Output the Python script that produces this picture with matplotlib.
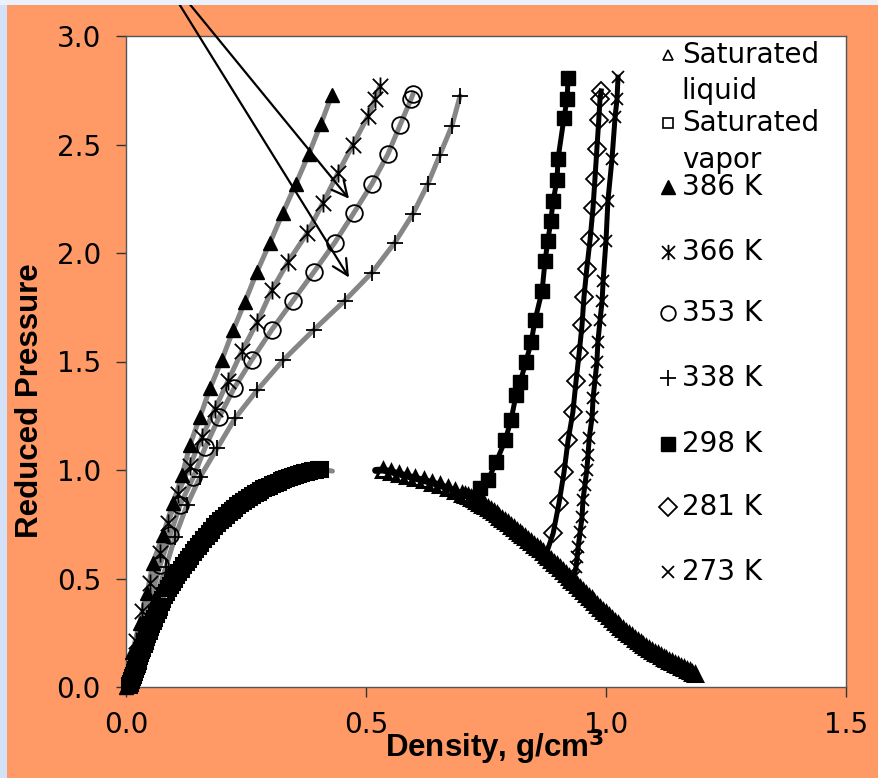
import matplotlib
matplotlib.use("Agg")
import matplotlib.pyplot as plt
from matplotlib.path import Path
from matplotlib.lines import Line2D
from matplotlib.patches import Rectangle

plt.rcParams['font.family'] = ['DejaVu Sans']

# ---------------- data ----------------
# Saturated vapor (open squares)
rho_vap = [0.006, 0.008, 0.010, 0.012, 0.014, 0.016, 0.018, 0.020, 0.022, 0.024,
           0.026, 0.028, 0.030, 0.032, 0.034, 0.037, 0.039, 0.042, 0.044, 0.047,
           0.050, 0.053, 0.056, 0.059, 0.062, 0.066, 0.069, 0.073, 0.076, 0.080,
           0.084, 0.088, 0.092, 0.096, 0.100, 0.105, 0.109, 0.114, 0.119, 0.124,
           0.129, 0.134, 0.139, 0.144, 0.150, 0.155, 0.161, 0.166, 0.172, 0.178,
           0.184, 0.190, 0.196, 0.202, 0.208, 0.214, 0.220, 0.226, 0.232, 0.238,
           0.244, 0.250, 0.256, 0.262, 0.268, 0.274, 0.280, 0.286, 0.292, 0.298,
           0.304, 0.310, 0.316, 0.322, 0.328, 0.334, 0.340, 0.346, 0.352, 0.358,
           0.364, 0.370, 0.376, 0.382, 0.388, 0.394, 0.399, 0.404]
p_vap = [0.010, 0.020, 0.032, 0.045, 0.057, 0.070, 0.082, 0.095, 0.107, 0.120,
         0.132, 0.145, 0.157, 0.170, 0.182, 0.200, 0.212, 0.230, 0.242, 0.260,
         0.275, 0.290, 0.305, 0.320, 0.335, 0.355, 0.370, 0.390, 0.405, 0.425,
         0.440, 0.455, 0.470, 0.485, 0.498, 0.515, 0.528, 0.545, 0.560, 0.575,
         0.590, 0.605, 0.620, 0.635, 0.650, 0.665, 0.680, 0.695, 0.710, 0.725,
         0.740, 0.755, 0.768, 0.780, 0.793, 0.805, 0.816, 0.827, 0.838, 0.848,
         0.858, 0.868, 0.877, 0.885, 0.893, 0.900, 0.908, 0.915, 0.922, 0.928,
         0.934, 0.940, 0.946, 0.952, 0.958, 0.963, 0.968, 0.973, 0.978, 0.982,
         0.986, 0.990, 0.993, 0.996, 0.999, 1.001, 1.003, 1.004]
rho_vap_end = [0.430]
p_vap_end = [0.995]

# Saturated liquid (open triangles)
rho_liq = [0.535, 0.552, 0.569, 0.586, 0.603, 0.620, 0.637, 0.654, 0.671, 0.686,
           0.700, 0.706, 0.712, 0.718, 0.724, 0.730, 0.736, 0.742, 0.748, 0.754,
           0.760, 0.766, 0.772, 0.778, 0.784, 0.790, 0.796, 0.802, 0.808, 0.814,
           0.820, 0.826, 0.832, 0.838, 0.844, 0.850, 0.856, 0.862, 0.868, 0.874,
           0.880, 0.886, 0.892, 0.898, 0.904, 0.910, 0.916, 0.922, 0.928, 0.934,
           0.940, 0.946, 0.952, 0.958, 0.964, 0.970, 0.976, 0.982, 0.988, 0.994,
           1.000, 1.006, 1.012, 1.018, 1.024, 1.030, 1.036, 1.042, 1.048, 1.054,
           1.060, 1.066, 1.072, 1.078, 1.084, 1.090, 1.096, 1.102, 1.108, 1.114,
           1.120, 1.126, 1.132, 1.138, 1.144, 1.150, 1.156, 1.162, 1.168, 1.174,
           1.180, 1.185]
p_liq = [1.000, 0.992, 0.982, 0.972, 0.962, 0.952, 0.942, 0.930, 0.916, 0.902,
         0.890, 0.885, 0.879, 0.872, 0.865, 0.857, 0.849, 0.841, 0.832, 0.823,
         0.814, 0.805, 0.795, 0.785, 0.775, 0.764, 0.754, 0.743, 0.732, 0.721,
         0.710, 0.700, 0.689, 0.678, 0.667, 0.656, 0.645, 0.634, 0.622, 0.610,
         0.598, 0.586, 0.573, 0.560, 0.547, 0.534, 0.521, 0.508, 0.495, 0.482,
         0.469, 0.456, 0.443, 0.430, 0.417, 0.404, 0.391, 0.378, 0.365, 0.352,
         0.339, 0.326, 0.313, 0.301, 0.289, 0.277, 0.266, 0.255, 0.244, 0.233,
         0.222, 0.212, 0.202, 0.193, 0.184, 0.175, 0.166, 0.158, 0.150, 0.142,
         0.135, 0.128, 0.121, 0.114, 0.107, 0.100, 0.093, 0.086, 0.079, 0.072,
         0.065, 0.058]
rho_liq_start = [0.520]
p_liq_start = [0.998]

# Supercritical isotherms (grey model lines)
rho_386 = [0.000, 0.013, 0.029, 0.044, 0.056, 0.077, 0.098, 0.117, 0.133, 0.154,
           0.175, 0.200, 0.223, 0.248, 0.273, 0.300, 0.327, 0.354, 0.381, 0.406,
           0.429]
p_386 = [0.000, 0.160, 0.295, 0.433, 0.571, 0.700, 0.847, 0.976, 1.114, 1.243,
         1.376, 1.509, 1.643, 1.776, 1.914, 2.048, 2.186, 2.319, 2.457, 2.595,
         2.729]

rho_366 = [0.020, 0.034, 0.050, 0.071, 0.0875, 0.108, 0.133, 0.158, 0.185, 0.2125,
           0.242, 0.273, 0.304, 0.338, 0.377, 0.410, 0.442, 0.473, 0.504, 0.519,
           0.529]
p_366 = [0.210, 0.350, 0.480, 0.617, 0.755, 0.890, 1.020, 1.150, 1.280, 1.410,
         1.550, 1.680, 1.830, 1.960, 2.090, 2.230, 2.370, 2.500, 2.630, 2.710,
         2.770]

rho_353 = [0.071, 0.092, 0.1125, 0.140, 0.165, 0.194, 0.225, 0.2625, 0.304, 0.348,
           0.392, 0.435, 0.475, 0.5125, 0.546, 0.571, 0.594, 0.598]
p_353 = [0.561, 0.700, 0.838, 0.966, 1.104, 1.243, 1.376, 1.509, 1.647, 1.781,
         1.914, 2.048, 2.186, 2.319, 2.457, 2.590, 2.710, 2.733]

rho_338 = [0.083, 0.102, 0.127, 0.154, 0.190, 0.227, 0.273, 0.327, 0.392, 0.456,
           0.5125, 0.560, 0.598, 0.629, 0.654, 0.679, 0.696]
p_338 = [0.552, 0.690, 0.838, 0.966, 1.100, 1.238, 1.367, 1.505, 1.647, 1.781,
         1.910, 2.048, 2.181, 2.319, 2.453, 2.586, 2.724]

origin_rho = [0.0]
origin_p = [0.0]

# Subcritical isotherms (black model lines)
rho_298 = [0.731, 0.7375, 0.754, 0.771, 0.790, 0.802, 0.8125, 0.821, 0.833, 0.844,
           0.852, 0.867, 0.873, 0.879, 0.885, 0.890, 0.898, 0.900, 0.9125, 0.919,
           0.921]
p_298 = [0.875, 0.916, 0.953, 1.035, 1.137, 1.229, 1.344, 1.404, 1.496, 1.588,
         1.689, 1.827, 1.965, 2.057, 2.149, 2.241, 2.338, 2.434, 2.623, 2.710,
         2.807]
rho_298_start = [0.728]
p_298_start = [0.860]

rho_281 = [0.890, 0.902, 0.9125, 0.921, 0.931, 0.9375, 0.944, 0.950, 0.954, 0.960,
           0.967, 0.973, 0.977, 0.981, 0.985, 0.9875, 0.990]
p_281 = [0.709, 0.847, 0.989, 1.137, 1.266, 1.408, 1.537, 1.666, 1.795, 1.928,
         2.066, 2.209, 2.342, 2.480, 2.614, 2.710, 2.747]
rho_281_start = [0.875]
p_281_start = [0.610]

rho_273 = [0.933, 0.9375, 0.940, 0.942, 0.946, 0.950, 0.952, 0.956, 0.960, 0.9625,
           0.965, 0.971, 0.973, 0.977, 0.981, 0.983, 0.9875, 0.992, 0.994, 1.000,
           1.004, 1.0125, 1.019, 1.023, 1.025]
p_273 = [0.506, 0.552, 0.598, 0.644, 0.713, 0.782, 0.861, 0.930, 0.999, 1.068,
         1.146, 1.243, 1.330, 1.413, 1.496, 1.588, 1.689, 1.781, 1.873, 2.057,
         2.241, 2.434, 2.628, 2.710, 2.810]
rho_273_start = [0.927]
p_273_start = [0.500]

# arrows
arrow_tips_rho = [0.4646, 0.4646]
arrow_tips_p = [1.887, 2.250]
arrow_tails_rho = [0.068, 0.076]
arrow_tails_p = [3.30, 3.30]

legend_labels = ["Saturated\nliquid", "Saturated\nvapor", "386 K", "366 K",
                 "353 K", "338 K", "298 K", "281 K", "273 K"]
x_ticks = [0.0, 0.5, 1.0, 1.5]
y_ticks = [0.0, 0.5, 1.0, 1.5, 2.0, 2.5, 3.0]

# ---------------- style ----------------
FS = 20
LFS = 22.5
GREY = '#868686'
LW = 3.6

star_path = Path([(0, -1), (0, 1), (-0.85, -0.85), (0.85, 0.85), (-0.85, 0.85), (0.85, -0.85)],
                 [Path.MOVETO, Path.LINETO, Path.MOVETO, Path.LINETO, Path.MOVETO, Path.LINETO])

fig = plt.figure(figsize=(8.79, 7.78), dpi=100)
fig.patch.set_facecolor('#FF9966')
fig.patches.append(Rectangle((0, 0), 7 / 879, 1, transform=fig.transFigure,
                             facecolor='#D3E2F6', edgecolor='none', zorder=0))
fig.patches.append(Rectangle((0, 1 - 5 / 778), 1, 5 / 778, transform=fig.transFigure,
                             facecolor='#EAF1FB', edgecolor='none', zorder=0))

ax = fig.add_axes([126 / 879, 91 / 778, 720 / 879, 651 / 778])
ax.set_facecolor('white')
ax.set_xlim(0, 1.5)
ax.set_ylim(0, 3.0)

styles = {
    'liq': dict(marker='^', ms=10.5, mfc='none', mec='black', mew=2.2),
    'vap': dict(marker='s', ms=10.0, mfc='none', mec='black', mew=2.2),
    '386': dict(marker='^', ms=9.5, mfc='black', mec='black', mew=1.0),
    '366': dict(marker=star_path, ms=13, mfc='none', mec='black', mew=1.3),
    '353': dict(marker='o', ms=12, mfc='none', mec='black', mew=1.3),
    '338': dict(marker='+', ms=12, mfc='none', mec='black', mew=1.3),
    '298': dict(marker='s', ms=9.5, mfc='black', mec='black', mew=1.0),
    '281': dict(marker='D', ms=9, mfc='none', mec='black', mew=1.3),
    '273': dict(marker='x', ms=8.5, mfc='none', mec='black', mew=1.3),
}
legend_styles = dict(styles)
legend_styles['liq'] = dict(styles['liq'], ms=7, mew=1.2)
legend_styles['vap'] = dict(styles['vap'], ms=7.5, mew=1.2)
legend_styles['366'] = dict(styles['366'], ms=11)
legend_styles['353'] = dict(styles['353'], ms=10.5)
legend_styles['338'] = dict(styles['338'], ms=11)

# model lines
ax.plot(rho_vap + rho_vap_end, p_vap + p_vap_end, color=GREY, lw=LW, zorder=2,
        solid_capstyle='round')
ax.plot(rho_liq_start + rho_liq, p_liq_start + p_liq, color='black', lw=5.0, zorder=2,
        solid_capstyle='round')
ax.plot(rho_386, p_386, color=GREY, lw=LW, zorder=2, solid_capstyle='round')
ax.plot(origin_rho + rho_366, origin_p + p_366, color=GREY, lw=LW, zorder=2, solid_capstyle='round')
ax.plot(origin_rho + rho_353, origin_p + p_353, color=GREY, lw=LW, zorder=2, solid_capstyle='round')
ax.plot(origin_rho + rho_338, origin_p + p_338, color=GREY, lw=LW, zorder=2, solid_capstyle='round')
ax.plot(rho_298_start + rho_298, p_298_start + p_298, color='black', lw=LW, zorder=2)
ax.plot(rho_281_start + rho_281, p_281_start + p_281, color='black', lw=LW, zorder=2)
ax.plot(rho_273_start + rho_273, p_273_start + p_273, color='black', lw=LW, zorder=2)

# markers
series = [(rho_liq, p_liq, 'liq'), (rho_vap, p_vap, 'vap'), (rho_386, p_386, '386'),
          (rho_366, p_366, '366'), (rho_353, p_353, '353'), (rho_338, p_338, '338'),
          (rho_298, p_298, '298'), (rho_281, p_281, '281'), (rho_273, p_273, '273')]
for xs, ys, key in series:
    ax.plot(xs, ys, ls='none', zorder=3, clip_on=False, **styles[key])

# arrows
for tr, tp, sr, sp in zip(arrow_tips_rho, arrow_tips_p, arrow_tails_rho, arrow_tails_p):
    ax.annotate('', xy=(tr, tp), xytext=(sr, sp), annotation_clip=False,
                arrowprops=dict(arrowstyle='->', color='black', lw=1.6,
                                mutation_scale=28, shrinkA=0, shrinkB=0),
                zorder=5)

# legend (manual, Excel-like)
keys = ['liq', 'vap', '386', '366', '353', '338', '298', '281', '273']
row_y = [0.971, 0.866, 0.768, 0.668, 0.574, 0.474, 0.374, 0.276, 0.177]
for key, lab, yy in zip(keys, legend_labels, row_y):
    ax.add_line(Line2D([0.753], [yy], transform=ax.transAxes, ls='none', zorder=6,
                       **legend_styles[key]))
    first, *rest = lab.split('\n')
    ax.text(0.772, yy, first, transform=ax.transAxes, fontsize=FS, ha='left',
            va='center', zorder=6)
    if rest:
        ax.text(0.772, yy - 0.056, rest[0], transform=ax.transAxes, fontsize=FS,
                ha='left', va='center', zorder=6)

# axes styling
ax.set_xticks(x_ticks)
ax.set_yticks(y_ticks)
ax.set_xticklabels([f"{v:.1f}" for v in x_ticks])
ax.set_yticklabels([f"{v:.1f}" for v in y_ticks])
ax.tick_params(axis='both', direction='out', length=7, width=1, color='#333333',
               labelsize=FS, labelcolor='black')
ax.tick_params(axis='x', pad=10)
ax.tick_params(axis='y', pad=11)
for s in ax.spines.values():
    s.set_color('#555555')
    s.set_linewidth(1.0)

fig.text(494 / 879, 1 - 747 / 778, r'Density, g/cm$^{\mathbf{3}}$', fontsize=LFS,
         fontweight='bold', ha='center', va='center', family='Liberation Sans')
fig.text(30 / 879, 1 - 401 / 778, 'Reduced Pressure', fontsize=LFS, fontweight='bold',
         rotation=90, ha='center', va='center', family='Liberation Sans')

fig.savefig('out.png', dpi=100, facecolor=fig.get_facecolor())
